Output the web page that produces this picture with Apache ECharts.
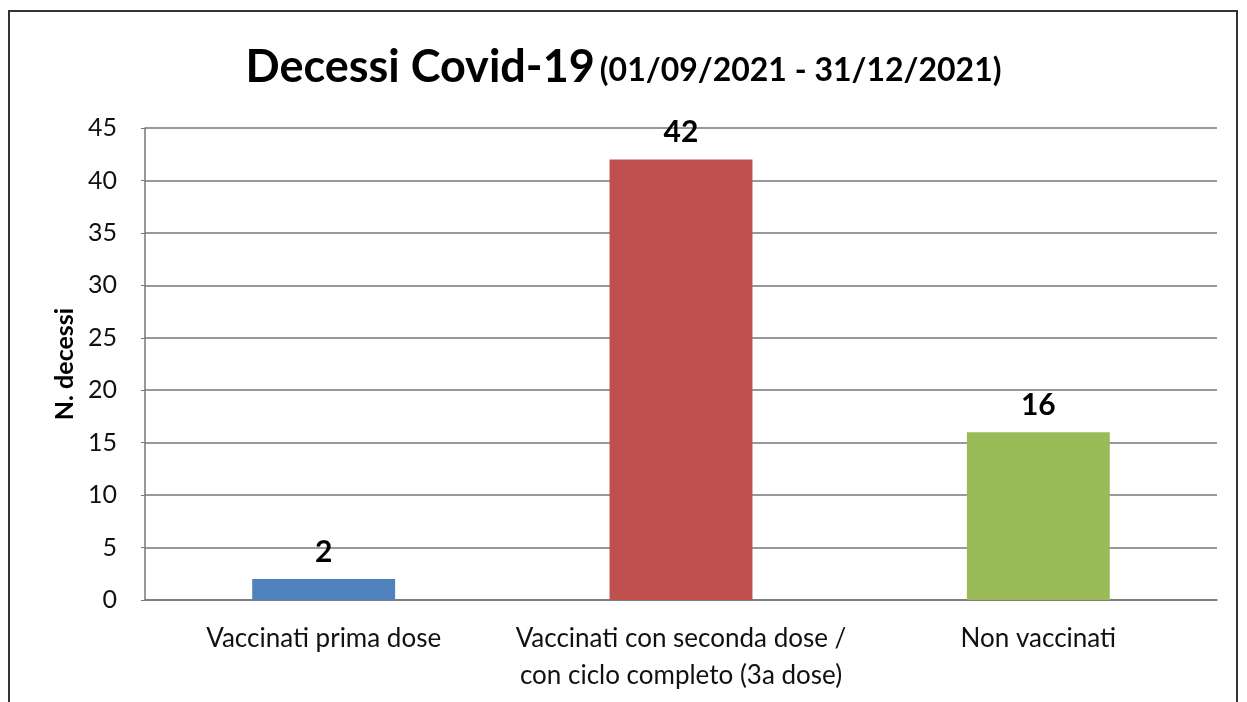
<!DOCTYPE html>
<html><head><meta charset="utf-8">
<script src="https://cdn.jsdelivr.net/npm/echarts@6/dist/echarts.min.js"></script>
<style>html,body{margin:0;padding:0;background:#fff}#c{width:1247px;height:702px}</style>
</head><body><div id="c"></div>
<script>
const categories = ['Vaccinati prima dose', 'Vaccinati con seconda dose /\ncon ciclo completo (3a dose)', 'Non vaccinati'];
const values = [2, 42, 16];
const barColors = ['#4f81bd', '#c0504d', '#9bbb59'];
const yTicks = {min: 0, max: 45, interval: 5};
const FONT = 'Lato';
const chart = echarts.init(document.getElementById('c'));
chart.setOption({
  animation: false,
  backgroundColor: '#fff',
  graphic: [{type: 'rect', shape: {x: 9, y: 11, width: 1228, height: 700}, style: {fill: 'none', stroke: '#333', lineWidth: 2}}],
  title: {
    text: '{a|Decessi Covid-19} {b|(01/09/2021 - 31/12/2021)}',
    left: 'center', top: 40,
    textStyle: {rich: {
      a: {fontFamily: FONT, fontWeight: 'bold', fontSize: 45, color: '#000'},
      b: {fontFamily: FONT, fontWeight: 'bold', fontSize: 32, color: '#000', verticalAlign: 'bottom', padding: [0,0,3,0]}
    }}
  },
  grid: {left: 145, right: 30, top: 128, bottom: 102},
  xAxis: {
    type: 'category', data: categories,
    axisLine: {lineStyle: {color: '#777', width: 1.5}},
    axisTick: {show: false},
    axisLabel: {interval: 0, hideOverlap: false, fontFamily: FONT, fontSize: 26, color: '#111', margin: 20, lineHeight: 37}
  },
  yAxis: {
    type: 'value', min: yTicks.min, max: yTicks.max, interval: yTicks.interval,
    name: 'N. decessi', nameLocation: 'middle', nameGap: 68, nameRotate: 90,
    nameTextStyle: {fontFamily: FONT, fontWeight: 'bold', fontSize: 25, color: '#000'},
    axisLine: {show: true, lineStyle: {color: '#777', width: 1.5}},
    axisTick: {show: true, length: 4, lineStyle: {color: '#777'}},
    axisLabel: {fontFamily: FONT, fontSize: 25, color: '#111', margin: 28},
    splitLine: {lineStyle: {color: '#777', width: 1.5}}
  },
  series: [{
    type: 'bar', barWidth: '40%',
    data: values.map((v, i) => ({value: v, itemStyle: {color: barColors[i]}})),
    label: {show: true, position: 'top', distance: 12, fontFamily: FONT, fontWeight: 'bold', fontSize: 30, color: '#000'}
  }]
});
</script></body></html>
